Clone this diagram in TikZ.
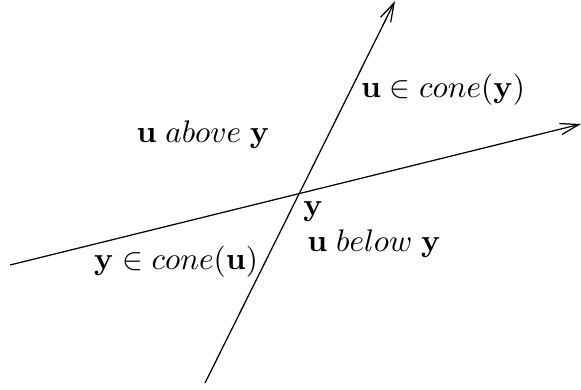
\documentclass[tikz,border=0pt]{standalone}
\usepackage{amsmath}
\usetikzlibrary{arrows.meta}

\begin{document}
\begin{tikzpicture}[
    x=0.32pt, y=-0.32pt,
    axis/.style={-{Straight Barb[length=6pt,width=3.6pt]}, line width=0.4pt},
    lbl/.style={inner sep=0pt}
]
\useasboundingbox (0,0) rectangle (581,389);

% the two lines
\coordinate (l1s) at (10,265);
\coordinate (l1e) at (581,124);
\coordinate (l2s) at (205,383);
\coordinate (l2e) at (395,1);
\draw[axis] (l1s) -- (l1e);
\draw[axis] (l2s) -- (l2e);

% labels
\node[lbl] (cy) at (443,90) {$\mathbf{u} \in cone(\mathbf{y})$};
\node[lbl] (ab) at (203,135) {$\mathbf{u}\;above\;\mathbf{y}$};
\node[lbl] (yy) at (313,212) {$\mathbf{y}$};
\node[lbl] (cu) at (176,262) {$\mathbf{y} \in cone(\mathbf{u})$};
\node[lbl] (be) at (374,244) {$\mathbf{u}\;below\;\mathbf{y}$};

\end{tikzpicture}
\end{document}
